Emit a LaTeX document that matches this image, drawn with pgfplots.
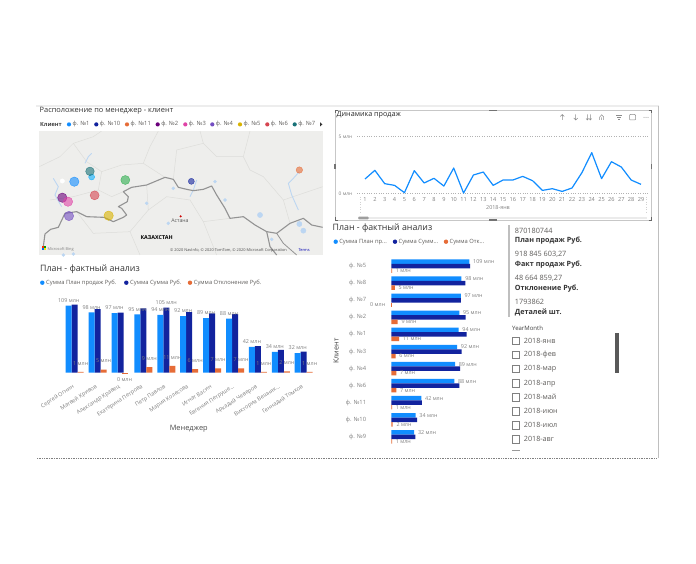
\documentclass[border=0pt]{standalone}
\usepackage{pgfplots}
\pgfplotsset{compat=1.18}
\usepackage{fontspec}
\setmainfont{Open Sans}
\newcommand\fs[1]{\fontsize{#1}{#1}\selectfont}
\newcommand\dd{.\kern0pt.\kern0pt.}
\definecolor{plan}{HTML}{118DFF}
\definecolor{fact}{HTML}{12239E}
\definecolor{dev}{HTML}{E66C37}
\definecolor{txt}{HTML}{605E5C}
\definecolor{lab}{HTML}{808080}
\definecolor{mapbg}{HTML}{EEEEEC}
\definecolor{bord}{HTML}{939393}
\definecolor{reg}{HTML}{DDDDDA}
\definecolor{water}{HTML}{BCD6F2}
\definecolor{cA}{HTML}{118DFF}\definecolor{cB}{HTML}{12239E}\definecolor{cC}{HTML}{E66C37}
\definecolor{cD}{HTML}{6B007B}\definecolor{cE}{HTML}{E044A7}\definecolor{cF}{HTML}{744EC2}
\definecolor{cG}{HTML}{D9B300}\definecolor{cH}{HTML}{D64550}\definecolor{cI}{HTML}{197278}
\definecolor{cJ}{HTML}{2EAE4E}
\begin{document}
\begin{tikzpicture}[x=1pt,y=-1pt]
\useasboundingbox (0,0) rectangle (696,564);
\fill[white] (0,0) rectangle (696,564);
% frame lines
\fill[black!7] (36,105) rectangle (659,107);
\draw[black!25,line width=.7pt] (658,106) -- (658,458);
\draw[black!50,densely dotted,line width=.7pt] (37,458) -- (657,458);
% titles
\node[anchor=west,text=black!80,inner sep=0] at (39.5,111) {\fs{7.4}Расположение по менеджер - клиент};
\node[anchor=west,text=black!85,inner sep=0] at (336.5,115) {\fs{7.2}Динамика продаж};
\node[anchor=west,text=black!80,inner sep=0] at (40,269) {\fs{8.8}План - фактный анализ};
\node[anchor=west,text=black!80,inner sep=0] at (332.5,228) {\fs{8.8}План - фактный анализ};
% map legend
\node[anchor=west,text=black!75,inner sep=0] at (40,124.4) {\fs{5.6}\bfseries Клиент};
\foreach \x/\c/\t in {69/cA/ф. №1,96.3/cB/ф. №10,127/cC/ф. №11,157.7/cD/ф. №2,185.3/cE/ф. №3,212.3/cF/ф. №4,240/cG/ф. №5,267.3/cH/ф. №6,294.7/cI/ф. №7}{
  \fill[\c] (\x,124.4) circle (2.1);
  \node[anchor=west,text=txt,inner sep=0] at (\x+3.4,124.4) {\fs{5.8}\t};
}
\fill[black!80] (320.2,122.4) -- (322.4,124.4) -- (320.2,126.4) -- cycle;
% map background
\fill[mapbg] (39.3,131) rectangle (322.7,255);
% map axis, in the coordinates of the map
\begin{axis}[at={(39.3pt,-255pt)},anchor=south west,scale only axis,width=283.4pt,height=124pt,
  xmin=28,xmax=878,ymin=93,ymax=465,y dir=reverse,hide axis,clip=true]
\addplot[reg,line width=.5pt] coordinates {(28,200) (90,170) (130,130) (190,110) (215,93)};
\addplot[reg,line width=.5pt] coordinates {(130,130) (170,185) (215,215) (275,195) (340,190) (405,232)};
\addplot[reg,line width=.5pt] coordinates {(215,215) (205,270) (245,290) (280,275)};
\addplot[reg,line width=.5pt] coordinates {(340,190) (360,140) (385,93)};
\addplot[reg,line width=.5pt] coordinates {(430,238) (440,150) (520,130) (510,93)};
\addplot[reg,line width=.5pt] coordinates {(520,130) (560,170) (640,170) (660,210) (700,230) (760,300) (780,370)};
\addplot[reg,line width=.5pt] coordinates {(640,170) (660,93)};
\addplot[reg,line width=.5pt] coordinates {(760,300) (878,260)};
\addplot[reg,line width=.5pt] coordinates {(60,300) (130,290) (205,270)};
\addplot[reg,line width=.5pt] coordinates {(350,255) (355,330) (410,290) (480,300) (520,365) (600,355)};
\addplot[reg,line width=.5pt] coordinates {(140,335) (190,400) (300,395) (355,330)};
\addplot[reg,line width=.5pt] coordinates {(300,395) (330,465)};
\addplot[reg,line width=.5pt] coordinates {(520,365) (560,465)};
\addplot[water,line width=.9pt] coordinates {(808,215) (790,235) (775,250) (785,285) (805,330)};
\addplot[water,line width=.9pt] coordinates {(165,190) (175,170) (185,160)};
\addplot[water,line width=.9pt] coordinates {(70,235) (85,260) (75,285) (95,320)};
\addplot[water,line width=.9pt] coordinates {(480,290) (490,270) (500,240)};
\addplot[only marks,mark=*,mark size=1.5pt,water,mark options={draw=none}] coordinates {(555,245) (585,300) (350,310) (415,370) (430,265) (725,418) (100,465) (130,462)};
\addplot[only marks,mark=*,mark size=2.6pt,water,mark options={draw=none}] coordinates {(808,372) (820,392) (690,345)};
\addplot[only marks,mark=*,mark size=2.2pt,white,mark options={draw=none}] coordinates {(97,243)};
\addplot[bord,line width=1.1pt,line join=round] coordinates {(40,440) (45,402) (62,388) (85,382) (105,340) (140,335) (170,350) (222,352) (250,365) (280,352) (290,345) (275,325) (265,320) (292,305) (295,290) (280,275) (305,262) (350,255) (405,232) (430,238) (445,262) (470,268) (490,272) (520,268) (545,258) (560,285) (585,325) (600,355) (640,350) (675,375) (710,395) (740,400) (780,370) (820,355) (845,375) (878,382)};
\addplot[bord,line width=1.1pt,line join=round] coordinates {(710,395) (720,440) (740,465)};
\addplot[bord,line width=.8pt,line join=round] coordinates {(740,400) (760,430) (800,465)};
% bubbles
\addplot[only marks,mark=*,mark size=3pt,cA!70!cyan,mark options={fill opacity=.6,draw opacity=.8}] coordinates {(185,231)};
\addplot[only marks,mark=*,mark size=4.3pt,cI,mark options={fill opacity=.6,draw opacity=.8}] coordinates {(180,214)};
\addplot[only marks,mark=*,mark size=4.7pt,cA,mark options={fill opacity=.6,draw opacity=.8}] coordinates {(133,245)};
\addplot[only marks,mark=*,mark size=4.5pt,cJ,mark options={fill opacity=.6,draw opacity=.8}] coordinates {(286,240)};
\addplot[only marks,mark=*,mark size=3pt,cB,mark options={fill opacity=.6,draw opacity=.8}] coordinates {(484,244)};
\addplot[only marks,mark=*,mark size=3.2pt,cC,mark options={fill opacity=.6,draw opacity=.8}] coordinates {(808,210)};
\addplot[only marks,mark=*,mark size=4.7pt,cD,mark options={fill opacity=.6,draw opacity=.8}] coordinates {(97,293)};
\addplot[only marks,mark=*,mark size=4.7pt,cE,mark options={fill opacity=.6,draw opacity=.8}] coordinates {(114,305)};
\addplot[only marks,mark=*,mark size=4.5pt,cH,mark options={fill opacity=.6,draw opacity=.8}] coordinates {(194,286)};
\addplot[only marks,mark=*,mark size=4.7pt,cF,mark options={fill opacity=.6,draw opacity=.8}] coordinates {(117,348)};
\addplot[only marks,mark=*,mark size=4.7pt,cG,mark options={fill opacity=.6,draw opacity=.8}] coordinates {(236,347)};
\addplot[only marks,mark=*,mark size=.8pt,red!80!black,mark options={draw=none}] coordinates {(452,349)};
\node[text=black!65,inner sep=0] at (axis cs:450,363) {\fs{5.2}Астана};
\node[text=black,inner sep=0] at (axis cs:380,412) {\fs{5.4}\bfseries КАЗАХСТАН};
\node[anchor=west,text=black!70,inner sep=0] at (axis cs:420,450) {\fs{3.9}© 2020 NavInfo, © 2020 TomTom, © 2020 Microsoft Corporation};
\node[anchor=west,text=blue!70!black,inner sep=0] at (axis cs:805,450) {\fs{3.9}Terms};
\node[anchor=west,text=black!50,inner sep=0] at (axis cs:52,447) {\fs{3.9}Microsoft Bing};
\end{axis}
\fill[red!70!orange] (41.5,246.2) rectangle (43.5,248.2);
\fill[green!60!black] (43.7,246.2) rectangle (45.7,248.2);
\fill[blue!60!cyan] (41.5,248.4) rectangle (43.5,250.4);
\fill[yellow!90!orange] (43.7,248.4) rectangle (45.7,250.4);
% line chart frame
\draw[black!22,line width=.5pt] (335,110) rectangle (651.7,220);
\draw[black!60,line width=.7pt] (335,113) -- (335,110) -- (338,110) (648.7,110) -- (651.7,110) -- (651.7,113)
  (335,217) -- (335,220) -- (338,220) (648.7,220) -- (651.7,220) -- (651.7,217);
\foreach \a/\b/\c/\d in {334.3/164/335.7/169,651/164/652.4/169,489/110/497/111.2,489/219.4/497/220.6}
  \fill[black!55] (\a,\b) rectangle (\c,\d);
% icons
\begin{scope}[black!45,line width=.5pt]
\draw (562.3,114.5) -- (562.3,120) (560.3,116.5) -- (562.3,114.5) -- (564.3,116.5);
\draw (575.7,114.5) -- (575.7,120) (573.7,118) -- (575.7,120) -- (577.7,118);
\draw (587.3,114.5) -- (587.3,120) (590.3,114.5) -- (590.3,120) (586,118.5) -- (587.3,120) -- (588.6,118.5) (589,118.5) -- (590.3,120) -- (591.6,118.5);
\draw (601.7,120) -- (601.7,117.5) (599.7,120) -- (599.7,117) -- (601.7,114.8) -- (603.7,117) -- (603.7,120);
\draw (616,115) -- (622,115) (617,117.3) -- (621,117.3) (618,119.6) -- (620,119.6);
\draw[rounded corners=.8pt] (629.5,114.5) rectangle (635.5,120);
\fill (644,117.3) circle (.5) (646,117.3) circle (.5) (648,117.3) circle (.5);
\end{scope}
% line chart
\begin{axis}[at={(357pt,-193.7pt)},anchor=south west,scale only axis,width=292pt,height=57pt,
  xmin=0.188,xmax=29.81,ymin=0,ymax=5,clip=false,
  axis line style={draw=none},major tick style={draw=none},
  ytick={0,5},yticklabels={0 млн,5 млн},
  xtick={1,...,29},xticklabels={1,2,3,4,5,6,7,8,9,10,11,12,13,14,15,16,17,18,19,20,21,22,23,24,25,26,27,28,29},
  tick label style={text=lab,inner sep=1pt},
  yticklabel style={font=\fs{4.9}},xticklabel style={font=\fs{5.6}},
  xtick pos=bottom,ytick pos=left,
  ymajorgrids,grid style={black!30,dotted,line width=.6pt},
  xticklabel shift=3pt,yticklabel shift=3.5pt]
\addplot[plan,line width=1.2pt,line join=round] coordinates {
(1,1.29)(2,2.05)(3,.88)(4,.73)(5,.09)(6,2.02)(7,.94)(8,1.35)(9,.67)(10,2.25)(11,.06)(12,1.64)(13,1.9)(14,.73)(15,1.2)(16,1.2)(17,1.52)(18,1.14)(19,.29)(20,.44)(21,.2)(22,.5)(23,1.84)(24,3.6)(25,1.32)(26,2.81)(27,2.34)(28,1.2)(29,.82)};
\end{axis}
\draw[black!18,dotted,line width=.5pt] (360,197) -- (360,214) (646.7,197) -- (646.7,214);
\node[text=lab,inner sep=0] at (498,208) {\fs{5.4}2018-янв};
\fill[black!8] (358,216.6) rectangle (647,219.4);
\fill[black!38,rounded corners=.8pt] (358.3,216.6) rectangle (368.5,219.4);
% left legend
\foreach \x/\c/\t in {42.3/plan/Сумма План продаж Руб.,126.3/fact/Сумма Сумма Руб.,190/dev/Сумма Отклонение Руб.}{
  \fill[\c] (\x,282.7) circle (2.2);
  \node[anchor=west,text=txt,inner sep=0] at (\x+3.7,282.7) {\fs{5.8}\t};
}
% left bars
\begin{axis}[at={(51.8pt,-375.8pt)},anchor=south west,scale only axis,width=274.8pt,height=83pt,
  xmin=-1,xmax=11,ymin=-5,ymax=130,axis line style={draw=none},major tick style={draw=none},
  ytick=\empty,xtick={0,...,10},
  xticklabels={Сергей Огнин,Матвей Кривов,Александр Кравец,Екатерина Петрова,Петр Павлов,Мария Колесова,Игнат Васин,Евгения Петруше\dd,Аркадий Чеверов,Виктория Вешняк\dd,Геннадий Томков},
  xticklabel style={xshift=-1pt,yshift=-10.5pt,rotate=33,anchor=east,text=lab,font=\fs{5.6},inner sep=0},
  clip=false,bar width=6pt,
  xlabel={Менеджер},xlabel style={font=\fs{7.4},text=black!70,at={(axis cs:4.98,0)},anchor=center,yshift=-56.3pt},
  nodes near coords style={font=\fs{5.4},text=lab,inner sep=0,yshift=3pt},
  point meta=explicit symbolic,nodes near coords]
\addplot[ybar,bar shift=0pt,fill=fact,draw=none,nodes near coords=\empty] coordinates {(0,110.6)[](1,103.6)[](2,97.6)[](3,104.7)[](4,105.8)[](5,98.7)[](6,96.5)[](7,95.4)[](8,43.4)[](9,37)[](10,34.2)[]};
\addplot[ybar,bar shift=-6pt,fill=plan,draw=none,nodes near coords style={xshift=-6pt}] coordinates {(0,109)[109 млн](1,98)[98 млн](2,97)[97 млн](3,95)[95 млн](4,94)[94 млн](5,92)[92 млн](6,89)[89 млн](7,88)[88 млн](8,42)[42 млн](9,34)[34 млн](10,32)[32 млн]};
\addplot[ybar,bar shift=0pt,draw=none,fill=none] coordinates {(4,105.8)[105 млн]};
\addplot[ybar,bar shift=6pt,fill=dev,draw=none,nodes near coords style={yshift=3.5pt,xshift=6pt}] coordinates {(0,1.5)[1 млн](1,5)[5 млн](3,9)[9 млн](4,11)[11 млн](5,6)[6 млн](6,7)[7 млн](7,7)[7 млн](8,1.3)[1 млн](9,2)[2 млн](10,1.5)[1 млн]};
\addplot[ybar,bar shift=4pt,fill=dev,draw=none,nodes near coords style={yshift=-7pt,xshift=4pt,anchor=north}] coordinates {(2,-0.6)[0 млн]};
\end{axis}
% right legend
\foreach \x/\c/\t in {335.7/plan/Сумма План пр\dd,395/fact/Сумма Сумм\dd,446/dev/Сумма Отк\dd}{
  \fill[\c] (\x,241.7) circle (2.2);
  \node[anchor=west,text=txt,inner sep=0] at (\x+3.4,241.7) {\fs{5.8}\t};
}
% right bars
\begin{axis}[at={(369.8pt,-445.4pt)},anchor=south west,scale only axis,width=114.6pt,height=187.8pt,
  xmin=-30,xmax=130,ymin=-0.5,ymax=10.5,axis line style={draw=none},major tick style={draw=none},
  xtick=\empty,ytick={0,...,10},
  yticklabels={ф. №9,ф. №10,ф. №11,ф. №6,ф. №4,ф. №3,ф. №1,ф. №2,ф. №7,ф. №8,ф. №5},
  yticklabel style={text=lab,font=\fs{5.8},inner sep=0,xshift=-3.5pt},
  clip=false,bar width=4.5pt,
  nodes near coords style={font=\fs{5.4},text=lab,inner sep=0,anchor=west,xshift=3.6pt},
  point meta=explicit symbolic,nodes near coords]
\addplot[xbar,bar shift=4.5pt,fill=plan,draw=none,nodes near coords style={yshift=4.5pt}] coordinates {(109,10)[109 млн](98,9)[98 млн](97,8)[97 млн](95,7)[95 млн](94,6)[94 млн](92,5)[92 млн](89,4)[89 млн](88,3)[88 млн](42,2)[42 млн](34,1)[34 млн](32,0)[32 млн]};
\addplot[xbar,bar shift=0pt,fill=fact,draw=none,nodes near coords=\empty] coordinates {(110,10)[](103.4,9)[](97.3,8)[](103.9,7)[](105.3,6)[](98.3,5)[](96,4)[](95,3)[](42.8,2)[](35.9,1)[](33.5,0)[]};
\addplot[xbar,bar shift=-4.5pt,fill=dev,draw=none,nodes near coords style={yshift=-4.5pt}] coordinates {(1.2,10)[1 млн](5,9)[5 млн](9,7)[9 млн](11,6)[11 млн](6,5)[6 млн](7,4)[7 млн](7,3)[7 млн](1.2,2)[1 млн](2,1)[2 млн](1.2,0)[1 млн]};
\addplot[xbar,bar shift=-4.5pt,fill=dev,draw=none,nodes near coords style={anchor=east,xshift=-9pt,yshift=-4.5pt}] coordinates {(-0.7,8)[0 млн]};
\end{axis}
\node[rotate=90,text=black!75,inner sep=0] at (336,351) {\fs{7.2}Клиент};
% KPI
\fill[black!25] (508,225) rectangle (510,317);
\foreach \y/\t in {230.7/870180744,254.3/{918 845 603,27},278.3/{48 664 859,27},302/1793862}
  \node[anchor=west,text=txt,inner sep=0] at (514.7,\y) {\fs{7.3}\t};
\foreach \y/\t in {241/План продаж Руб.,264.7/Факт продаж Руб.,288.3/Отклонение Руб.,312.7/Деталей шт.}
  \node[anchor=west,text=black!80,inner sep=0] at (514.7,\y) {\fs{7.2}\bfseries \t};
% slicer
\node[anchor=west,text=black!75,inner sep=0] at (512,328.7) {\fs{6}YearMonth};
\foreach \y/\t in {340.7/янв,355/фев,369/мар,383.3/апр,397.3/май,411.3/июн,425.3/июл,439.3/авг}{
  \draw[black!50,line width=.5pt] (512.3,\y-3.7) rectangle (519.7,\y+3.7);
  \node[anchor=west,text=txt,inner sep=0] at (523.7,\y) {\fs{7.2}2018-\t};
}
\draw[black!40,line width=.5pt] (512.3,450) -- (519.7,450);
\fill[black!65] (615,333) rectangle (619,373);
\end{tikzpicture}
\end{document}
